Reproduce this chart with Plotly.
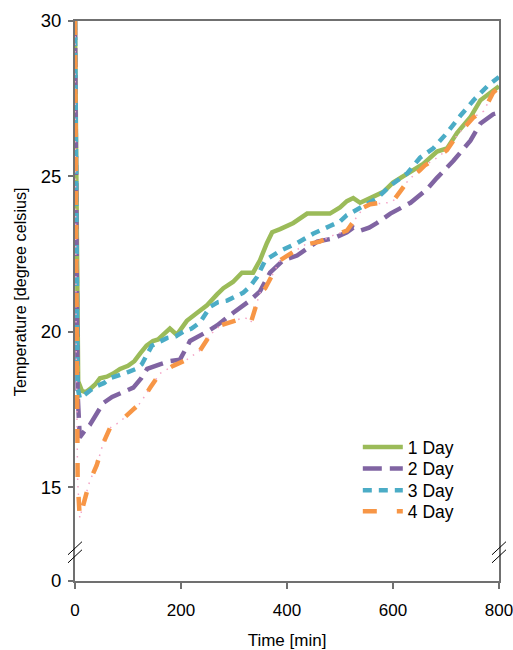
import plotly.graph_objects as go

# ---- data ----
t_day1 = [0, 6, 13, 20, 28, 38, 47, 60, 72, 85, 100, 112, 123, 135, 147, 157, 166, 179, 192, 211,
          230, 249, 268, 280, 298, 315, 336, 349, 362, 372, 387, 412, 438, 460, 481, 500, 513, 525,
          538, 557, 582, 600, 627, 657, 683, 702, 721, 746, 765, 784, 800]
v_day1 = [30, 18.4, 18.1, 18.05, 18.15, 18.3, 18.5, 18.55, 18.65, 18.8, 18.9, 19.05, 19.3, 19.55,
          19.7, 19.75, 19.9, 20.1, 19.9, 20.35, 20.6, 20.85, 21.2, 21.4, 21.6, 21.9, 21.9, 22.3,
          22.85, 23.2, 23.3, 23.5, 23.8, 23.8, 23.8, 24.0, 24.2, 24.3, 24.15, 24.3, 24.5, 24.8,
          25.1, 25.4, 25.8, 25.9, 26.4, 26.9, 27.45, 27.7, 27.9]

t_day2 = [0, 5, 9, 13, 20, 28, 40, 53, 70, 85, 110, 125, 136, 160, 179, 198, 217, 249, 268, 298,
          330, 349, 368, 393, 419, 457, 487, 513, 525, 538, 555, 570, 595, 633, 665, 683, 714, 746,
          765, 789, 800]
v_day2 = [30, 18.0, 16.6, 16.7, 16.85, 17.0, 17.35, 17.7, 17.9, 18.0, 18.2, 18.5, 18.8, 18.95,
          19.05, 19.1, 19.7, 20.0, 20.2, 20.6, 21.0, 21.3, 21.9, 22.3, 22.45, 22.9, 23.0, 23.2,
          23.35, 23.25, 23.35, 23.5, 23.8, 24.15, 24.6, 24.95, 25.5, 26.15, 26.7, 27.0, 27.05]

t_day3 = [0, 5, 9, 18, 28, 41, 55, 66, 85, 100, 115, 126, 145, 160, 174, 190, 204, 220, 236, 255,
          270, 287, 300, 317, 330, 343, 359, 387, 419, 449, 481, 500, 513, 532, 550, 570, 595, 627,
          651, 676, 702, 727, 752, 778, 800]
v_day3 = [30, 18.2, 17.85, 17.95, 18.1, 18.25, 18.35, 18.5, 18.6, 18.7, 18.8, 18.95, 19.55, 19.7,
          19.8, 19.85, 20.0, 20.1, 20.3, 20.8, 20.95, 21.0, 21.1, 21.25, 21.45, 21.75, 22.3, 22.6,
          22.85, 23.15, 23.4, 23.55, 23.75, 23.95, 24.1, 24.3, 24.7, 25.1, 25.6, 25.9, 26.4, 26.95,
          27.45, 27.9, 28.2]

t_day4 = [0, 2, 5, 9, 18, 28, 41, 53, 66, 85, 110, 123, 142, 160, 185, 211, 236, 255, 274, 298,
          320, 327, 332, 349, 359, 387, 434, 462, 487, 513, 532, 545, 557, 589, 600, 613, 630, 651,
          660, 683, 702, 720, 740, 752, 771, 789, 800]
v_day4 = [30, 20, 15.2, 14.0, 14.6, 15.2, 15.7, 16.4, 16.9, 17.1, 17.5, 17.7, 18.2, 18.65, 18.9,
          19.1, 19.4, 19.9, 20.2, 20.35, 20.45, 20.4, 20.3, 21.25, 21.4, 22.3, 22.8, 22.9, 23.1,
          23.25, 23.7, 24.0, 24.1, 24.15, 24.2, 24.5, 24.9, 25.2, 25.35, 25.6, 25.85, 26.3, 26.7,
          26.9, 27.1, 27.7, 27.85]

series_names = ["1 Day", "2 Day", "3 Day", "4 Day"]
x_ticks = [0, 200, 400, 600, 800]
x_tick_labels = ["0", "200", "400", "600", "800"]
# broken axis: the "0" label sits just below the break
y_zero_pos = 11.975
y_break_pos = [13.03, 12.77]
y_ticks = [y_zero_pos, 15, 20, 25, 30]
y_tick_labels = ["0", "15", "20", "25", "30"]

FONT = "Liberation Sans, Arial, sans-serif"
green, purple, blue, orange = "#9BBB59", "#8064A2", "#4BACC6", "#F79646"
LW = 4.5

fig = go.Figure()
fig.add_trace(go.Scatter(x=t_day1, y=v_day1, mode="lines", name=series_names[0], legend="legend",
                         line=dict(color=green, width=LW)))
fig.add_trace(go.Scatter(x=t_day2, y=v_day2, mode="lines", name=series_names[1], legend="legend2",
                         line=dict(color=purple, width=LW, dash="19px,8px")))
fig.add_trace(go.Scatter(x=t_day3, y=v_day3, mode="lines", name=series_names[2], legend="legend3",
                         line=dict(color=blue, width=LW, dash="9px,7px")))
# pink dots in the gaps of the 4 Day dash pattern
fig.add_trace(go.Scatter(x=t_day4, y=v_day4, mode="lines", showlegend=False, hoverinfo="skip",
                         line=dict(color="#F4A3C6", width=1.5, dash="1.5px,6px")))
fig.add_trace(go.Scatter(x=t_day4, y=v_day4, mode="lines", name=series_names[3], legend="legend4",
                         line=dict(color=orange, width=LW, dash="14px,20px")))

axis_col = "#707070"
shapes = []
# break marks on the left and right axes
for xc in (0.0, 1.0):
    for yb in y_break_pos:
        shapes.append(dict(type="line", xref="paper", yref="y",
                           x0=xc - 0.0165, x1=xc + 0.0165,
                           y0=yb - 0.21, y1=yb + 0.21,
                           line=dict(color="black", width=1)))

plot_top, plot_bottom = 21, 580.7
def legend_at(py):
    return dict(x=0.667, y=(plot_bottom - py) / (plot_bottom - plot_top), xanchor="left",
                yanchor="middle", bgcolor="rgba(0,0,0,0)", font=dict(size=17.5), itemwidth=40)

fig.update_layout(
    width=513, height=650,
    margin=dict(l=75, r=14, t=21, b=69.3, autoexpand=False),
    paper_bgcolor="white", plot_bgcolor="white",
    font=dict(family=FONT, size=17, color="black"),
    showlegend=True,
    legend=legend_at(447),
    legend2=legend_at(468.5),
    legend3=legend_at(490),
    legend4=legend_at(511),
    shapes=shapes,
    annotations=[dict(text="Temperature [degree celsius]", textangle=-90, showarrow=False,
                      xref="paper", yref="paper", x=(20 - 75) / 424, y=(plot_bottom - 292) / (plot_bottom - plot_top),
                      xanchor="center", yanchor="middle", font=dict(size=16.2))],
    xaxis=dict(range=[0, 800], tickvals=x_ticks, ticktext=x_tick_labels,
               showgrid=False, zeroline=False, showline=True, linecolor=axis_col,
               linewidth=2, mirror=True, ticks="outside", ticklen=6, tickcolor=axis_col,
               tickwidth=1.5, ticklabelstandoff=7, tickfont=dict(size=17),
               ticklabeloverflow="allow", automargin=False,
               title=dict(text="Time [min]", font=dict(size=17), standoff=17)),
    yaxis=dict(range=[y_zero_pos, 30], tickvals=y_ticks, ticktext=y_tick_labels,
               showgrid=False, zeroline=False, showline=True, linecolor=axis_col,
               linewidth=2, mirror=True, ticks="outside", ticklen=5, tickcolor=axis_col,
               tickwidth=1.5, ticklabelstandoff=3, tickfont=dict(size=18.5),
               ticklabeloverflow="allow", automargin=False),
)

fig.write_html("out.html", config={"displayModeBar": False},
               post_script="document.body.style.margin='0';document.body.style.overflow='hidden';")
